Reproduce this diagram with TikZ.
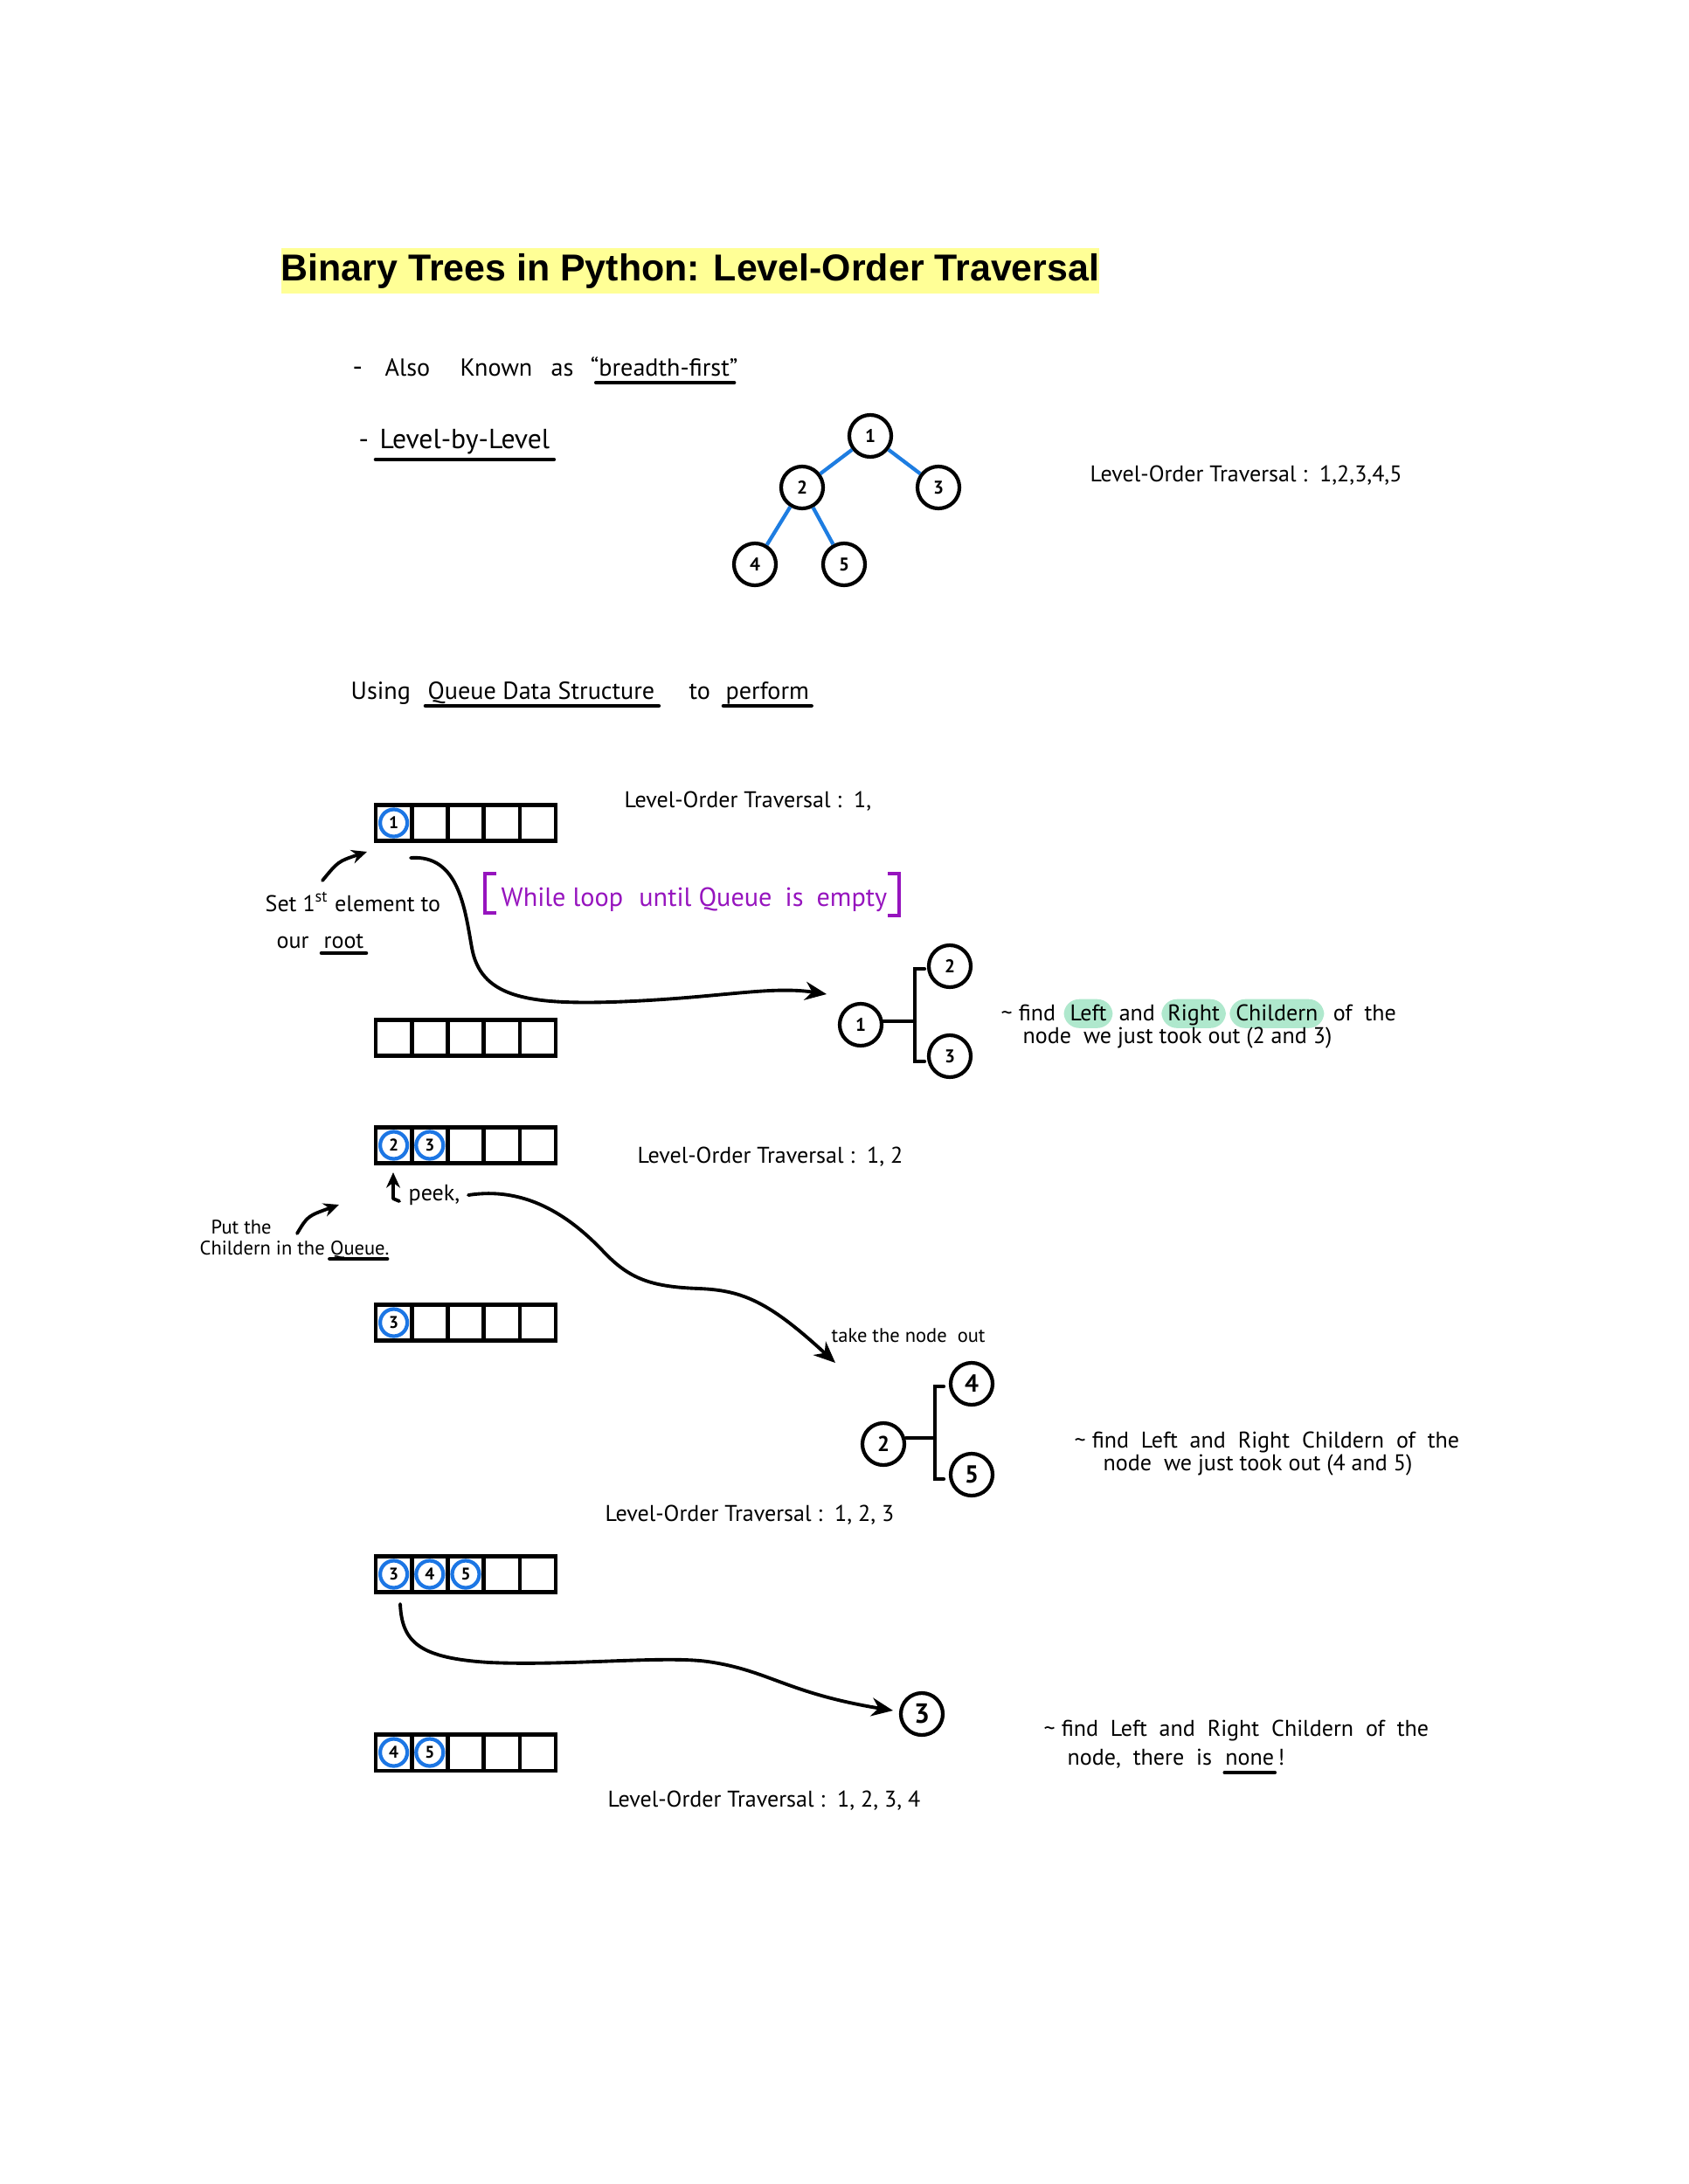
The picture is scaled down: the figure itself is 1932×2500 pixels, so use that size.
\documentclass[tikz,border=0pt]{standalone}
\usepackage{fontspec}
\setmainfont{PT Sans}
\newfontfamily\titlefont{Liberation Sans}
\newfontfamily\hwfont{PT Sans}
\usetikzlibrary{arrows.meta,calc}
\definecolor{hlyellow}{RGB}{255,255,150}
\definecolor{qblue}{RGB}{28,118,228}
\definecolor{treeblue}{RGB}{30,125,225}
\definecolor{lpurple}{RGB}{150,20,190}
\definecolor{hlgreen}{RGB}{175,232,205}
\tikzset{
  hwbig/.style={font=\hwfont\fontsize{9}{11}\selectfont, inner sep=0pt},
  hwmid/.style={font=\hwfont\fontsize{8}{10}\selectfont, inner sep=0pt},
  hwsm/.style={font=\hwfont\fontsize{7.4}{9}\selectfont, inner sep=0pt},
  hwxs/.style={font=\hwfont\fontsize{6.4}{8}\selectfont, inner sep=0pt},
  ul/.style={line width=1.3pt, line cap=round},
  tnode/.style={circle, draw, line width=1.2pt, minimum size=0.48cm, inner sep=0pt, font=\hwfont\bfseries\fontsize{6}{7}\selectfont},
  qcell/.style={rectangle, draw, line width=1.3pt, minimum width=0.412cm, minimum height=0.415cm, inner sep=0pt},
  qitem/.style={circle, draw=qblue, line width=1.2pt, minimum size=0.31cm, inner sep=0pt, font=\hwfont\bfseries\fontsize{5.5}{6}\selectfont},
  tedge/.style={treeblue, line width=1.2pt},
  hand/.style={line width=1.1pt, line cap=round, line join=round},
  handarrow/.style={hand, -{Stealth[length=7pt,width=6pt]}},
  smallarrow/.style={hand, -{Stealth[length=5pt,width=4.5pt]}},
  brk/.style={line width=1.2pt, line cap=round},
  pbr/.style={lpurple, line width=1.1pt},
  hlg/.style={fill=hlgreen, rounded corners=5pt, inner xsep=2pt, inner ysep=1.5pt, text height=5.4pt, text depth=1pt},
}
\newcommand\qrow[2]{\foreach \i in {1,...,5}{\node[qcell] (#1-\i) at ({409.4+41.2*\i},#2) {};}}
\begin{document}
\begin{tikzpicture}[x=0.01cm,y=-0.01cm]
\useasboundingbox (0,0) rectangle (1932,2500);

% title
\node[fill=hlyellow, minimum width=9.32cm, minimum height=0.51cm, inner sep=0pt,
      font=\titlefont\bfseries\fontsize{12.2}{14}\selectfont] (title) at (790,310)
      {Binary Trees in Python: Level-Order Traversal};

% header bullets
\node[hwbig, anchor=base west] (dash1) at (403,430) {-};
\node[hwmid, anchor=base west] (also) at (440,430) {Also};
\node[hwmid, anchor=base west] (known) at (526,430) {Known};
\node[hwmid, anchor=base west] (as) at ($(known.base east)+(20,0)$) {as};
\node[hwmid, anchor=base west] (bf) at ($(as.base east)+(18,0)$) {“breadth-first”};
\draw[ul] ($(bf.base west)+(7,8)$) -- ($(bf.base east)+(-5,8)$);

\node[hwbig, anchor=base west] (dash2) at (410,513) {-};
\node[hwbig, anchor=base west] (lbl) at (434,513) {Level-by-Level};
\draw[ul] ($(lbl.base west)+(-4,13)$) -- ($(lbl.base east)+(4,13)$);

% tree
\node[tnode] (t1) at (996,499) {1};
\node[tnode] (t2) at (918,558) {2};
\node[tnode] (t3) at (1074,558) {3};
\node[tnode] (t4) at (864,646) {4};
\node[tnode] (t5) at (966,646) {5};
\draw[tedge] (t1) -- (t2);
\draw[tedge] (t1) -- (t3);
\draw[tedge] (t2) -- (t4);
\draw[tedge] (t2) -- (t5);
\node[hwsm, anchor=base west] (lot0) at (1247,551) {Level-Order Traversal :\ \ 1,2,3,4,5};

% using queue line
\node[hwmid, anchor=base west] (using) at (401,800) {Using};
\node[hwmid, anchor=base west] (qds) at (489,800) {Queue Data Structure};
\node[hwmid, anchor=base west] (to) at (788,800) {to};
\node[hwmid, anchor=base west] (perf) at (830,800) {perform};
\draw[ul] ($(qds.base west)+(-2,8)$) -- ($(qds.base east)+(4,8)$);
\draw[ul] ($(perf.base west)+(-2,8)$) -- ($(perf.base east)+(2,8)$);

% queue 1
\qrow{qa}{942}
\node[qitem] (qa1) at (qa-1) {1};
\node[hwsm, anchor=base west] (lot1) at (714,924) {Level-Order Traversal :\ \ 1,};

\node[hwsm, anchor=base west] (set1) at (303,1043) {Set 1\textsuperscript{st} element to};
\node[hwsm, anchor=base west] (our) at (316,1085) {our};
\node[hwsm, anchor=base west] (root) at (370,1085) {root};
\draw[ul] ($(root.base west)+(-2,6)$) -- ($(root.base east)+(2,6)$);
\coordinate (sa0) at (369,1008);
\coordinate (sa1) at (420,975);
\draw[smallarrow] (sa0) .. controls (387,986) .. (sa1);

\node[anchor=base west, inner sep=0pt, font=\hwfont\fontsize{8.6}{10}\selectfont, text=lpurple] (while) at (573,1037) {While loop\hspace{0.6em}until Queue\hspace{0.5em}is\hspace{0.5em}empty};
\draw[pbr] ($(while.base west)+(-5,-37)$) -- ($(while.base west)+(-18,-37)$) -- ($(while.base west)+(-18,8)$) -- ($(while.base west)+(-5,8)$);
\draw[pbr] ($(while.base east)+(0,-37)$) -- ($(while.base east)+(13,-37)$) -- ($(while.base east)+(13,11)$) -- ($(while.base east)+(0,11)$);

% curve 1
\coordinate (k1s) at (470,982);
\coordinate (k1e) at (946,1138);
\draw[handarrow] (k1s) .. controls (525,978) and (532,1040) .. (540,1085)
  .. controls (550,1140) and (600,1150) .. (700,1147)
  .. controls (820,1143) and (880,1128) .. (k1e);

% block 1
\node[tnode] (a1) at (985,1173) {1};
\node[tnode] (a2) at (1087,1106) {2};
\node[tnode] (a3) at (1087,1209) {3};
\coordinate (a1b) at (1047,1169);
\draw[brk] (a1.east |- a1b) -- (a1b);
\draw[brk] ($(a2 -| a1b)+(11,3)$) -- ($(a2 -| a1b)+(0,3)$) -- ($(a3 -| a1b)+(0,6)$) -- ($(a3 -| a1b)+(11,6)$);

\node[hwsm, anchor=base west] (f1a) at (1145,1168) {\textasciitilde\ find};
\node[hwsm, hlg, anchor=base west] (f1b) at ($(f1a.base east)+(8,0)$) {Left};
\node[hwsm, anchor=base west] (f1c) at ($(f1b.base east)+(6,0)$) {and};
\node[hwsm, hlg, anchor=base west] (f1d) at ($(f1c.base east)+(6,0)$) {Right};
\node[hwsm, hlg, anchor=base west] (f1e) at ($(f1d.base east)+(3,0)$) {Childern};
\node[hwsm, anchor=base west] (f1f) at ($(f1e.base east)+(9,0)$) {of\ \ the};
\node[hwsm, anchor=base west] (f1g) at (1170,1194) {node\ \ we just took out (2 and 3)};

% queue 2 (empty)
\qrow{qb}{1188}

% queue 3
\qrow{qc}{1311}
\node[qitem] (qc1) at (qc-1) {2};
\node[qitem] (qc2) at (qc-2) {3};
\node[hwsm, anchor=base west] (lot2) at (729,1331) {Level-Order Traversal :\ \ 1, 2};

\coordinate (pkh) at (457,1375);
\coordinate (pk0) at (450,1372);
\coordinate (pk1) at (450,1342);
\draw[smallarrow] (pkh) -- (pk0) -- (pk1);
\node[hwsm, anchor=base west] (peek) at (467,1374) {peek,};

\node[hwxs, anchor=base west] (put1) at (241,1412) {Put the};
\node[hwxs, anchor=base west] (put2) at (228,1436) {Childern in the};
\node[hwxs, anchor=base west] (put3) at ($(put2.base east)+(5,0)$) {Queue.};
\draw[ul] ($(put3.base west)+(0,5)$) -- ($(put3.base east)+(-3,5)$);
\coordinate (pa0) at (340,1412);
\coordinate (pa1) at (388,1379);
\draw[smallarrow] (pa0) .. controls (352,1392) .. (pa1);

% curve 2
\coordinate (k2s) at (536,1368);
\coordinate (k2e) at (956,1560);
\draw[handarrow] (k2s) .. controls (600,1358) and (650,1390) .. (690,1432)
  .. controls (720,1464) and (745,1473) .. (800,1475)
  .. controls (850,1477) and (880,1490) .. (k2e);
\node[hwxs, anchor=base west] (take) at (951,1536) {take the node\ \ out};

% queue 4
\qrow{qd}{1514}
\node[qitem] (qd1) at (qd-1) {3};

% block 2
\node[tnode, font=\hwfont\bfseries\fontsize{7}{8}\selectfont] (b2) at (1011,1653) {2};
\node[tnode, font=\hwfont\bfseries\fontsize{8}{9}\selectfont] (b4) at (1112,1584) {4};
\node[tnode, font=\hwfont\bfseries\fontsize{8}{9}\selectfont] (b5) at (1112,1688) {5};
\coordinate (b2b) at (1070,1646);
\draw[brk] (b2.east |- b2b) -- (b2b);
\draw[brk] ($(b4 -| b2b)+(10,3)$) -- ($(b4 -| b2b)+(0,3)$) -- ($(b5 -| b2b)+(0,5)$) -- ($(b5 -| b2b)+(10,5)$);
\node[hwsm, anchor=base west] (f2a) at (1229,1657) {\textasciitilde\ find\ \ Left\ \ and\ \ Right\ \ Childern\ \ of\ \ the};
\node[hwsm, anchor=base west] (f2b) at (1262,1683) {node\ \ we just took out (4 and 5)};

\node[hwsm, anchor=base west] (lot3) at (692,1741) {Level-Order Traversal :\ \ 1, 2, 3};

% queue 5
\qrow{qe}{1802}
\node[qitem] (qe1) at (qe-1) {3};
\node[qitem] (qe2) at (qe-2) {4};
\node[qitem] (qe3) at (qe-3) {5};

% curve 3
\coordinate (k3s) at (458,1836);
\coordinate (k3e) at (1022,1958);
\draw[handarrow] (k3s) .. controls (460,1880) and (480,1898) .. (560,1903)
  .. controls (650,1907) and (760,1895) .. (810,1902)
  .. controls (880,1912) and (900,1938) .. (k3e);
\node[tnode, font=\hwfont\bfseries\fontsize{9}{10}\selectfont] (c3) at (1055,1962) {3};
\node[hwsm, anchor=base west] (f3a) at (1194,1987) {\textasciitilde\ find\ \ Left\ \ and\ \ Right\ \ Childern\ \ of\ \ the};
\node[hwsm, anchor=base west] (f3b) at (1221,2020) {node,\ \ there\ \ is};
\node[hwsm, anchor=base west] (f3c) at ($(f3b.base east)+(14,0)$) {none};
\node[hwsm, anchor=base west] (f3d) at ($(f3c.base east)+(3,0)$) {!};
\draw[ul] ($(f3c.base west)+(0,9)$) -- ($(f3c.base east)+(0,9)$);

% queue 6
\qrow{qf}{2006}
\node[qitem] (qf1) at (qf-1) {4};
\node[qitem] (qf2) at (qf-2) {5};
\node[hwsm, anchor=base west] (lot4) at (695,2068) {Level-Order Traversal :\ \ 1, 2, 3, 4};
\end{tikzpicture}
\end{document}
